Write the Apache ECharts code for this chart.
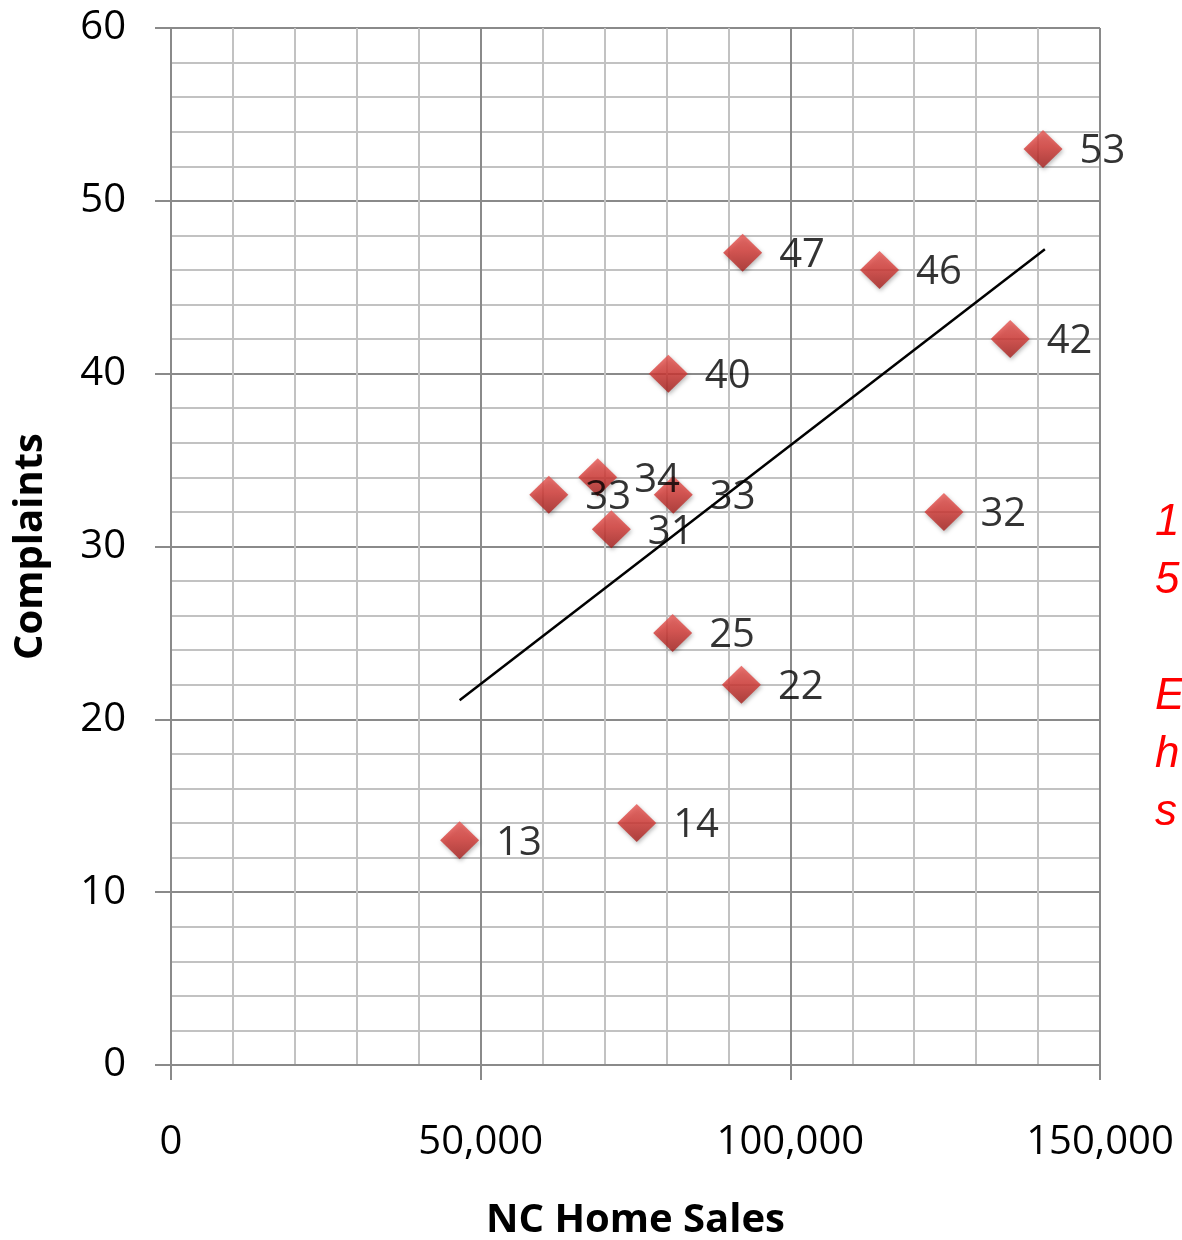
<!DOCTYPE html>
<html>
<head>
<meta charset="utf-8">
<script src="https://cdn.jsdelivr.net/npm/echarts@6/dist/echarts.min.js"></script>
<style>
html,body{margin:0;padding:0;background:#fff;}
#chart{width:1182px;height:1240px;}
</style>
</head>
<body>
<div id="chart"></div>
<script>
// NC Home Sales (x) vs Complaints (y)
const homeSales = [46600, 75200, 61000, 68900, 71100, 80300, 81100, 81000, 92300, 92100, 114400, 124800, 135500, 140800];
const complaints = [13, 14, 33, 34, 31, 40, 33, 25, 47, 22, 46, 32, 42, 53];
// linear trend line endpoints
const trendX = [46600, 141100];
const trendY = [21.1, 47.2];
// clipped red note at the right edge (only first characters visible)
const noteLines = ['1', '5', '', 'E', 'h', 's'];

const chart = echarts.init(document.getElementById('chart'));
const font = '"Open Sans", "Noto Sans", sans-serif';
const major = '#8a8a8a';
const minor = '#c2c2c2';

chart.setOption({
  animation: false,
  grid: {left: 171, right: 82, top: 28, bottom: 175, containLabel: false, outerBoundsMode: 'none'},
  xAxis: {
    type: 'value', min: 0, max: 150000, interval: 50000,
    name: 'NC Home Sales', nameLocation: 'middle', nameGap: 136,
    nameTextStyle: {fontFamily: font, fontSize: 40, fontWeight: 'bold', color: '#000'},
    axisLine: {show: true, onZero: false, lineStyle: {color: major, width: 2}},
    axisTick: {show: true, length: 15, lineStyle: {color: major, width: 2}},
    axisLabel: {margin: 58, fontFamily: font, fontSize: 40, color: '#000',
      formatter: v => v.toLocaleString('en-US')},
    splitLine: {show: true, lineStyle: {color: major, width: 2}},
    minorTick: {show: false, splitNumber: 5},
    minorSplitLine: {show: true, lineStyle: {color: minor, width: 2}}
  },
  yAxis: {
    type: 'value', min: 0, max: 60, interval: 10,
    name: 'Complaints', nameLocation: 'middle', nameGap: 120, nameRotate: 90,
    nameTextStyle: {fontFamily: font, fontSize: 40, fontWeight: 'bold', color: '#000'},
    axisLine: {show: true, onZero: false, lineStyle: {color: major, width: 2}},
    axisTick: {show: true, length: 16, lineStyle: {color: major, width: 2}},
    axisLabel: {margin: 45, fontFamily: font, fontSize: 40, color: '#000', padding: [4, 0, 0, 0]},
    splitLine: {show: true, lineStyle: {color: major, width: 2}},
    minorTick: {show: false, splitNumber: 5},
    minorSplitLine: {show: true, lineStyle: {color: minor, width: 2}}
  },
  series: [
    {
      type: 'line',
      data: trendX.map((x, i) => [x, trendY[i]]),
      showSymbol: false, symbol: 'none',
      lineStyle: {color: '#000', width: 2.5},
      z: 3, silent: true
    },
    {
      type: 'scatter',
      data: homeSales.map((x, i) => [x, complaints[i]]),
      symbol: 'diamond', symbolSize: [39, 38],
      itemStyle: {
        color: new echarts.graphic.LinearGradient(0, 0, 0, 1, [
          {offset: 0, color: '#e85652'},
          {offset: 0.45, color: '#d83b37'},
          {offset: 1, color: '#a61f1c'}
        ]),
        shadowColor: 'rgba(0,0,0,0.35)', shadowBlur: 4, shadowOffsetX: 1, shadowOffsetY: 2
      },
      label: {
        show: true, position: 'right', distance: 17,
        offset: [0, 3],
        fontFamily: font, fontSize: 40, color: '#000',
        formatter: p => String(p.value[1])
      },
      z: 4
    }
  ],
  graphic: [{
    type: 'text', left: 1155, top: 494,
    style: {
      text: noteLines.join('\n'),
      font: 'italic 44px "Liberation Sans", Arial, sans-serif',
      lineHeight: 58, fill: '#ff0000'
    }
  }]
});
</script>
</body>
</html>
